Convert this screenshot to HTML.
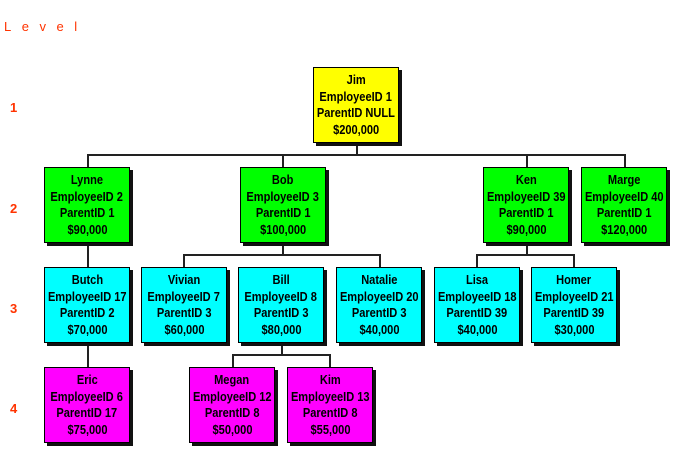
<!DOCTYPE html>
<html><head><style>
body{margin:0;width:678px;height:463px;background:#fff;position:relative;overflow:hidden;font-family:"Liberation Sans Narrow","Liberation Sans",Arial,sans-serif;}
.b{position:absolute;width:84px;height:74px;border:1px solid #000;box-shadow:3px 3px 0 #111;display:flex;flex-direction:column;justify-content:center;align-items:center;}
.b div{font-weight:bold;font-size:13px;line-height:16.5px;white-space:nowrap;transform:scaleX(0.85);color:#000}
.y{background:#ffff00}.g{background:#00ff00}.c{background:#00ffff}.m{background:#ff00ff}
.l{position:absolute;background:#222}
.h{height:1.5px}.v{width:1.5px}
.t{position:absolute;color:#ff3300;font-family:"Liberation Sans",sans-serif;font-size:13px;font-weight:bold}
</style></head><body>
<div class="t" style="left:4px;top:19px;letter-spacing:10.5px;font-weight:normal">Level</div>
<div class="t" style="left:10px;top:100px">1</div>
<div class="t" style="left:10px;top:201px">2</div>
<div class="t" style="left:10px;top:301px">3</div>
<div class="t" style="left:10px;top:401px">4</div>

<div class="l v" style="left:356px;top:143px;height:12px"></div>
<div class="l h" style="left:87px;top:154px;width:538px"></div>
<div class="l v" style="left:87px;top:154px;height:13px"></div>
<div class="l v" style="left:282px;top:154px;height:13px"></div>
<div class="l v" style="left:526px;top:154px;height:13px"></div>
<div class="l v" style="left:624px;top:154px;height:13px"></div>
<div class="l v" style="left:87px;top:242px;height:125px"></div>
<div class="l v" style="left:282px;top:242px;height:13px"></div>
<div class="l h" style="left:183px;top:254px;width:197px"></div>
<div class="l v" style="left:183px;top:254px;height:13px"></div>
<div class="l v" style="left:379px;top:254px;height:13px"></div>
<div class="l v" style="left:526px;top:242px;height:13px"></div>
<div class="l h" style="left:476px;top:254px;width:98px"></div>
<div class="l v" style="left:476px;top:254px;height:13px"></div>
<div class="l v" style="left:573px;top:254px;height:13px"></div>
<div class="l v" style="left:281px;top:342px;height:13px"></div>
<div class="l h" style="left:232px;top:354px;width:98px"></div>
<div class="l v" style="left:232px;top:354px;height:13px"></div>
<div class="l v" style="left:329px;top:354px;height:13px"></div>

<div class="b y" style="left:313px;top:67px"><div>Jim</div><div>EmployeeID 1</div><div>ParentID NULL</div><div>$200,000</div></div>

<div class="b g" style="left:44px;top:167px"><div>Lynne</div><div>EmployeeID 2</div><div>ParentID 1</div><div>$90,000</div></div>
<div class="b g" style="left:240px;top:167px"><div>Bob</div><div>EmployeeID 3</div><div>ParentID 1</div><div>$100,000</div></div>
<div class="b g" style="left:483px;top:167px"><div>Ken</div><div>EmployeeID 39</div><div>ParentID 1</div><div>$90,000</div></div>
<div class="b g" style="left:581px;top:167px"><div>Marge</div><div>EmployeeID 40</div><div>ParentID 1</div><div>$120,000</div></div>

<div class="b c" style="left:44px;top:267px"><div>Butch</div><div>EmployeeID 17</div><div>ParentID 2</div><div>$70,000</div></div>
<div class="b c" style="left:141px;top:267px"><div>Vivian</div><div>EmployeeID 7</div><div>ParentID 3</div><div>$60,000</div></div>
<div class="b c" style="left:238px;top:267px"><div>Bill</div><div>EmployeeID 8</div><div>ParentID 3</div><div>$80,000</div></div>
<div class="b c" style="left:336px;top:267px"><div>Natalie</div><div>EmployeeID 20</div><div>ParentID 3</div><div>$40,000</div></div>
<div class="b c" style="left:434px;top:267px"><div>Lisa</div><div>EmployeeID 18</div><div>ParentID 39</div><div>$40,000</div></div>
<div class="b c" style="left:531px;top:267px"><div>Homer</div><div>EmployeeID 21</div><div>ParentID 39</div><div>$30,000</div></div>

<div class="b m" style="left:44px;top:367px"><div>Eric</div><div>EmployeeID 6</div><div>ParentID 17</div><div>$75,000</div></div>
<div class="b m" style="left:189px;top:367px"><div>Megan</div><div>EmployeeID 12</div><div>ParentID 8</div><div>$50,000</div></div>
<div class="b m" style="left:287px;top:367px"><div>Kim</div><div>EmployeeID 13</div><div>ParentID 8</div><div>$55,000</div></div>
</body></html>
